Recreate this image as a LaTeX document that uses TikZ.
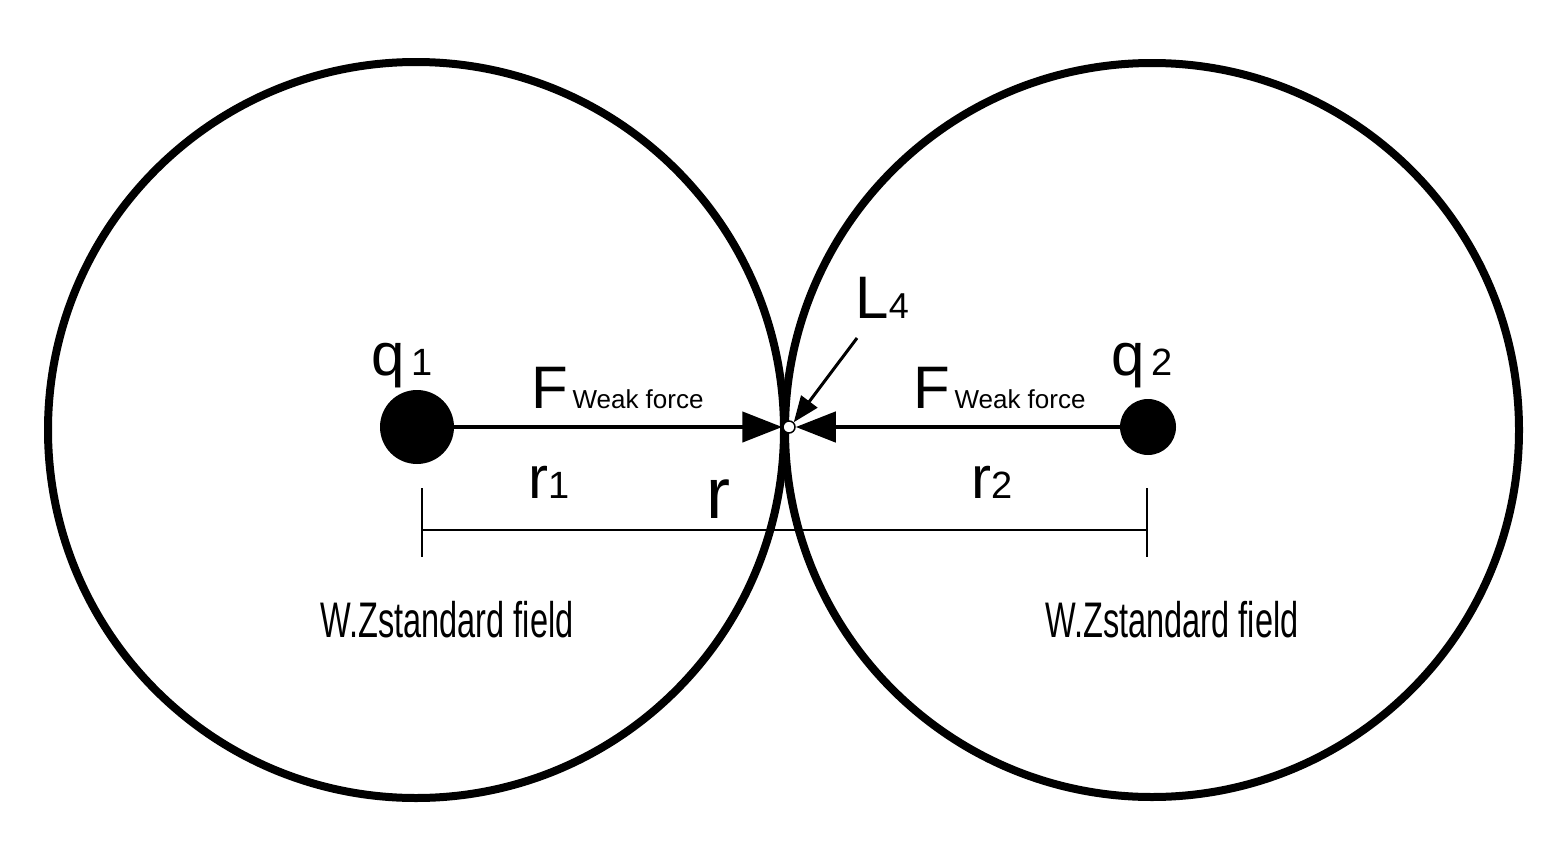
\documentclass[tikz,border=0pt]{standalone}
\usepackage{fontspec}
\setmainfont{Liberation Sans}
\usetikzlibrary{arrows.meta}
\begin{document}
\begin{tikzpicture}[x=1pt,y=-1pt,
  big/.style={line width=8pt},
  force/.style={line width=4.5pt,-{Triangle[length=40pt,width=30pt]}},
  lab/.style={font=\fontsize{60}{60}\selectfont},
  sub/.style={font=\fontsize{30}{30}\selectfont},
  fld/.style={font=\fontsize{50}{50}\selectfont,xscale=0.65}]
\useasboundingbox (0,0) rectangle (1566,862);
\fill[white] (0,0) rectangle (1566,862);
\draw[big] (416,430) circle (368);
\draw[big] (1152,430) circle (367);
\node[circle,fill=black,minimum size=74pt,inner sep=0] (q1) at (417,427) {};
\node[circle,fill=black,minimum size=56pt,inner sep=0] (q2) at (1148,427) {};
\node[circle,draw,fill=white,line width=1.5pt,minimum size=12pt,inner sep=0] (p) at (789,427) {};
\draw[force] (q1) -- (p.west);
\draw[force] (q2) -- (p.east);
\coordinate (la) at (857,338);
\draw[line width=3pt,-{Triangle[length=26pt,width=20pt]}] (la) -- (p.north east);
\node[lab,anchor=base west] (l4) at (852,318) {L\fontsize{36}{36}\selectfont 4};
\node[lab,anchor=base west] (q1l) at (368,375) {q\fontsize{38}{38}\selectfont\,1};
\node[lab,anchor=base west] (q2l) at (1108,375) {q\fontsize{38}{38}\selectfont\,2};
\node[lab,anchor=base west] (f1) at (528,408) {F\fontsize{26}{26}\selectfont\,Weak force};
\node[lab,anchor=base west] (f2) at (910,408) {F\fontsize{26}{26}\selectfont\,Weak force};
\node[lab,anchor=base west] (r1) at (525,498) {r\fontsize{38}{38}\selectfont 1};
\node[lab,anchor=base west] (r2) at (968,498) {r\fontsize{38}{38}\selectfont 2};
\node[lab,anchor=base west,font=\fontsize{72}{72}\selectfont] (r) at (703,518) {r};
\coordinate (a) at (422,530); \coordinate (b) at (1147,530);
\draw[line width=2pt] (a) -- (b);
\draw[line width=2pt] (422,488) -- (422,557);
\draw[line width=2pt] (1147,488) -- (1147,557);
\node[fld] (w1) at (447,620) {W.Zstandard field};
\node[fld] (w2) at (1172,620) {W.Zstandard field};
\end{tikzpicture}
\end{document}
